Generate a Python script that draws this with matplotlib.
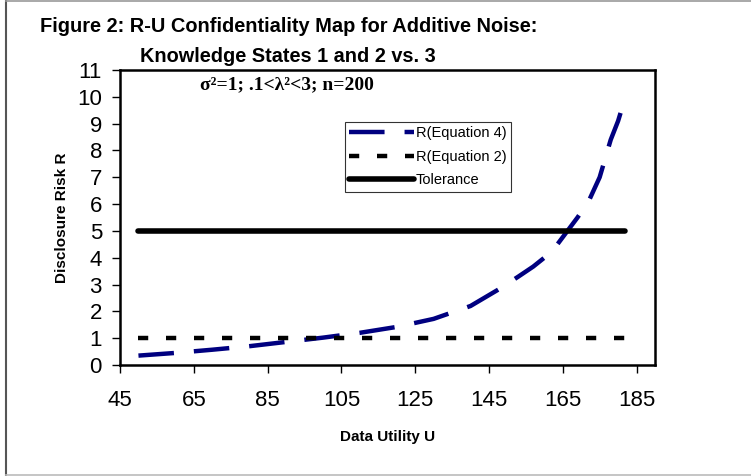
import matplotlib.pyplot as plt
from matplotlib.lines import Line2D

# Data
utility = [50, 60, 70, 80, 90, 100, 110, 120, 130, 140, 148, 153, 157, 160,
           163, 166, 169, 172, 175, 178, 180, 182]
risk_eq4 = [0.35, 0.45, 0.57, 0.70, 0.86, 1.02, 1.2, 1.42, 1.72, 2.2, 2.85,
            3.3, 3.67, 4.0, 4.4, 4.95, 5.5, 6.1, 7.0, 8.4, 9.1, 10.0]
line_x = [50, 182]
risk_eq2 = [1, 1]
tolerance = [5, 5]

x_ticks = [45, 65, 85, 105, 125, 145, 165, 185]
y_ticks = list(range(0, 12))

W, H = 751, 476
fig = plt.figure(figsize=(W / 100, H / 100), dpi=100)

# outer frame of the figure
fig.add_artist(Line2D([6 / W, 6 / W], [1 / H, 1 - 1 / H], color="#555555", lw=1.5))
fig.add_artist(Line2D([6 / W, 1], [1 - 1 / H, 1 - 1 / H], color="#999999", lw=1.2))
fig.add_artist(Line2D([6 / W, 1], [1 / H, 1 / H], color="#bbbbbb", lw=1.2))

ax = fig.add_axes([120 / W, (H - 365) / H, (655 - 120) / W, (365 - 70) / H])

ax.plot(utility, risk_eq4, color="#000080", lw=3.2, dashes=(8, 4.5),
        dash_capstyle="butt", label="R(Equation 4)")
ax.plot(line_x, risk_eq2, color="black", lw=3.2, dashes=(2.3, 4.0),
        dash_capstyle="butt", label="R(Equation 2)")
ax.plot(line_x, tolerance, color="black", lw=4, solid_capstyle="round",
        label="Tolerance")

ax.set_xlim(45, 190)
ax.set_ylim(0, 11)
ax.set_xticks(x_ticks)
ax.set_yticks(y_ticks)
ax.tick_params(direction="out", length=6, width=1, labelsize=16)
ax.tick_params(axis="x", pad=12)
ax.tick_params(axis="y", pad=7)
for s in ax.spines.values():
    s.set_linewidth(1.8)
for lab in ax.get_xticklabels() + ax.get_yticklabels():
    lab.set_family("Liberation Sans")

ax.set_xlabel("Data Utility U", family="Liberation Sans", weight="bold",
              fontsize=11, labelpad=14)
ax.set_ylabel("Disclosure Risk R", family="Liberation Sans", weight="bold",
              fontsize=11, labelpad=6)

leg = ax.legend(loc="upper left", bbox_to_anchor=(345 / W, 1 - 122 / H),
                bbox_transform=fig.transFigure, frameon=True, fancybox=False,
                prop={"family": "Liberation Sans", "size": 10.5},
                handlelength=4.4, handletextpad=0.15, labelspacing=0.65,
                borderpad=0.3, borderaxespad=0)
leg.get_frame().set_edgecolor("black")
leg.get_frame().set_linewidth(0.8)

fig.text(200 / W, 1 - 85 / H, "σ²=1; .1<λ²<3; n=200", fontsize=14,
         family="Liberation Serif", weight="bold", va="center", ha="left")

fig.text(40 / W, 1 - 27 / H, "Figure 2: R-U Confidentiality Map for Additive Noise:",
         family="Liberation Sans", weight="bold", fontsize=14.4, va="center")
fig.text(288 / W, 1 - 57 / H, "Knowledge States 1 and 2 vs. 3",
         family="Liberation Sans", weight="bold", fontsize=14.3, va="center", ha="center")

fig.savefig("out.png", dpi=100)
